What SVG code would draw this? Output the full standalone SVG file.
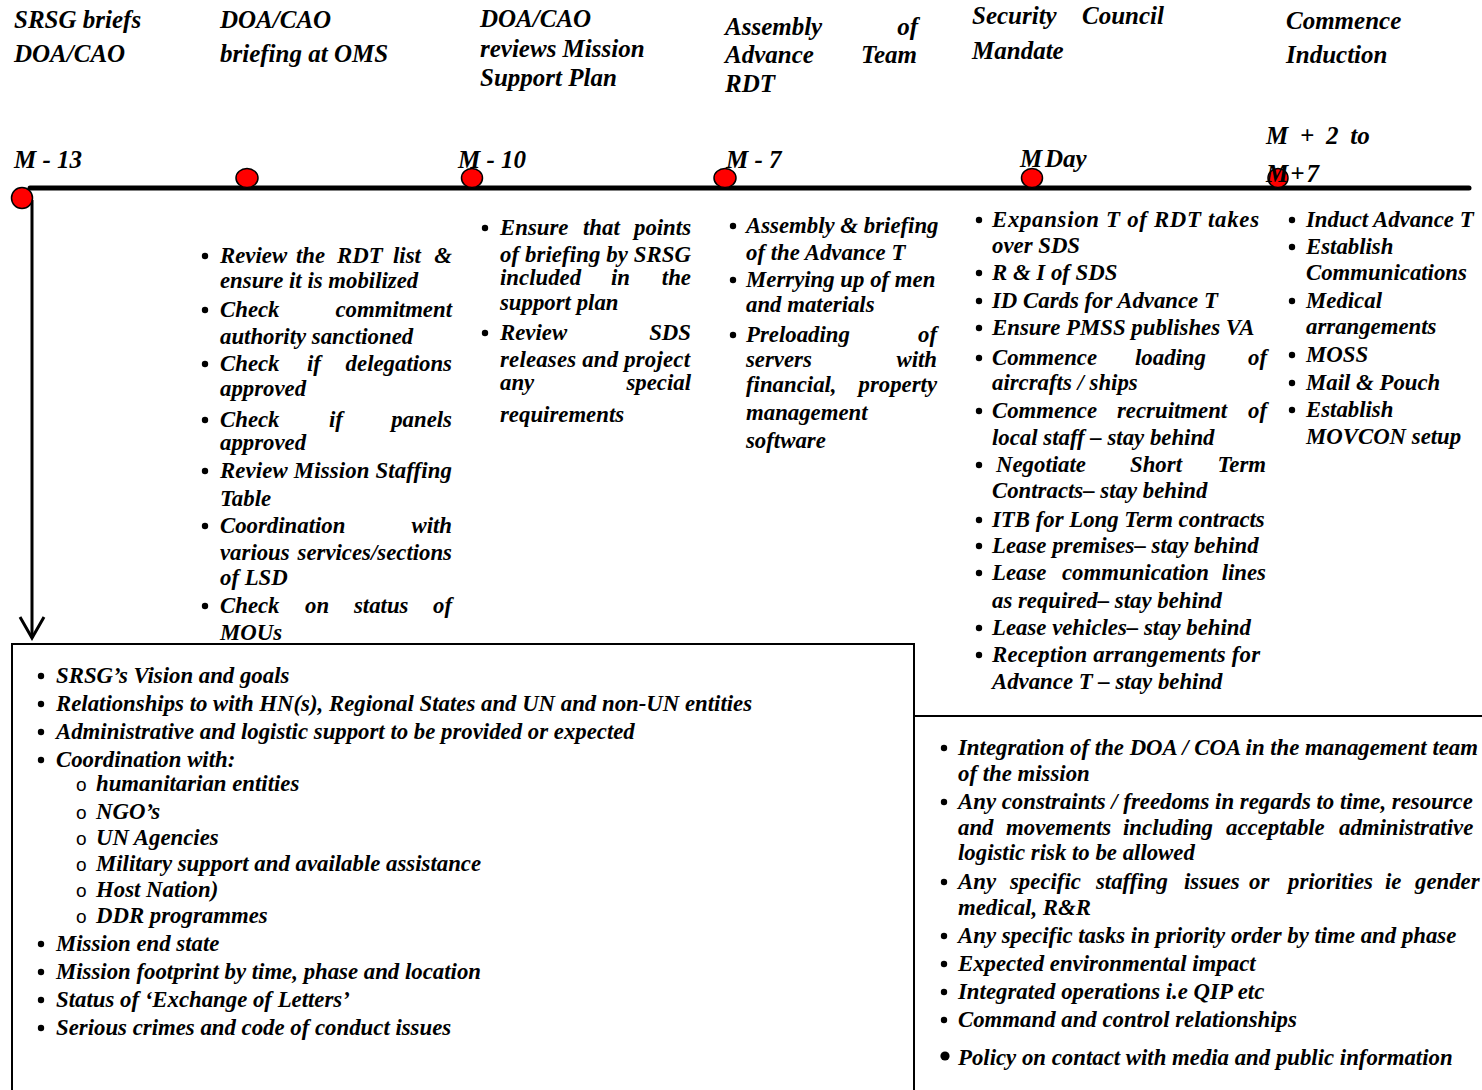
<svg xmlns="http://www.w3.org/2000/svg" width="1482" height="1090" viewBox="0 0 1482 1090">
<style>
text{font-family:"Liberation Serif","Times New Roman",serif;font-weight:bold;font-style:italic;fill:#000}
.h{font-size:25px}
.t{font-size:22.8px}
.e{text-anchor:end}
.o{font-family:"Liberation Sans",Arial,sans-serif;font-style:normal;font-weight:normal;font-size:19px}
.dot{fill:#000}
.node{fill:#ff0000;stroke:#000;stroke-width:1.5}
.box{fill:#fff;stroke:#000;stroke-width:2}
</style>
<defs>
<marker id="arr" viewBox="0 0 30 30" refX="27" refY="15" markerWidth="30" markerHeight="30" markerUnits="userSpaceOnUse" orient="auto">
<polyline points="6,3 27,15 6,27" fill="none" stroke="#000" stroke-width="3"/>
</marker>
</defs>
<rect width="1482" height="1090" fill="#fff"/>

<g id="connectors">
<line x1="30" y1="188" x2="1469" y2="188" stroke="#000" stroke-width="5" stroke-linecap="round"/>
<line x1="32" y1="200" x2="32" y2="638" stroke="#000" stroke-width="3" marker-end="url(#arr)"/>
</g>

<g id="milestones">
<circle class="node" cx="22" cy="198" r="10.5"/>
<ellipse class="node" cx="247" cy="178" rx="11" ry="9.5"/>
<ellipse class="node" cx="472" cy="178" rx="10.5" ry="9.5"/>
<ellipse class="node" cx="725" cy="178" rx="11" ry="9.5"/>
<ellipse class="node" cx="1032" cy="178" rx="10.5" ry="9.5"/>
<ellipse class="node" cx="1278" cy="178" rx="10" ry="9.5"/>
</g>

<g id="hdr-1">
<text class="h" x="14" y="28">SRSG briefs</text>
<text class="h" x="14" y="62">DOA/CAO</text>
<text class="h" x="14" y="168">M - 13</text>
</g>
<g id="hdr-2">
<text class="h" x="220" y="28">DOA/CAO</text>
<text class="h" x="220" y="62">briefing at OMS</text>
</g>
<g id="hdr-3">
<text class="h" x="480" y="27">DOA/CAO</text>
<text class="h" x="480" y="57">reviews Mission</text>
<text class="h" x="480" y="86">Support Plan</text>
<text class="h" x="458" y="168">M - 10</text>
</g>
<g id="hdr-4">
<text class="h" x="725" y="35">Assembly</text>
<text class="h e" x="918" y="35">of</text>
<text class="h" x="725" y="63">Advance</text>
<text class="h e" x="917" y="63">Team</text>
<text class="h" x="725" y="92">RDT</text>
<text class="h" x="726" y="168">M - 7</text>
</g>
<g id="hdr-5">
<text class="h" x="972" y="24">Security</text>
<text class="h e" x="1164" y="24">Council</text>
<text class="h" x="972" y="59">Mandate</text>
<text class="h" x="1020" y="167">M<tspan x="1045">Day</tspan></text>
</g>
<g id="hdr-6">
<text class="h" x="1286" y="29">Commence</text>
<text class="h" x="1286" y="63">Induction</text>
<text class="h" x="1266" y="144" word-spacing="5.5">M + 2 to</text>
<text class="h" x="1266" y="182" letter-spacing="2">M+7</text>
</g>

<g id="list-m12">
<circle class="dot" cx="205" cy="256" r="3.2"/>
<text class="t" x="220" y="263">Review</text><text class="t" x="296" y="263">the</text><text class="t" x="337" y="263">RDT</text><text class="t" x="393" y="263">list</text><text class="t e" x="452" y="263">&amp;</text>
<text class="t" x="220" y="288">ensure it is mobilized</text>
<circle class="dot" cx="205" cy="310" r="3.2"/>
<text class="t" x="220" y="317">Check</text><text class="t e" x="452" y="317">commitment</text>
<text class="t" x="220" y="344">authority sanctioned</text>
<circle class="dot" cx="205" cy="364" r="3.2"/>
<text class="t" x="220" y="371">Check</text><text class="t" x="307" y="371">if</text><text class="t e" x="452" y="371">delegations</text>
<text class="t" x="220" y="396">approved</text>
<circle class="dot" cx="205" cy="420" r="3.2"/>
<text class="t" x="220" y="427">Check</text><text class="t" x="329" y="427">if</text><text class="t e" x="452" y="427">panels</text>
<text class="t" x="220" y="450">approved</text>
<circle class="dot" cx="205" cy="471" r="3.2"/>
<text class="t" x="220" y="478" textLength="232" lengthAdjust="spacing">Review Mission Staffing</text>
<text class="t" x="220" y="506">Table</text>
<circle class="dot" cx="205" cy="526" r="3.2"/>
<text class="t" x="220" y="533">Coordination</text><text class="t e" x="452" y="533">with</text>
<text class="t" x="220" y="560">various</text><text class="t e" x="452" y="560">services/sections</text>
<text class="t" x="220" y="585">of LSD</text>
<circle class="dot" cx="205" cy="606" r="3.2"/>
<text class="t" x="220" y="613">Check</text><text class="t" x="305" y="613">on</text><text class="t" x="354" y="613">status</text><text class="t e" x="452" y="613">of</text>
<text class="t" x="220" y="640">MOUs</text>
</g>

<g id="list-m10">
<circle class="dot" cx="485" cy="228" r="3.2"/>
<text class="t" x="500" y="235">Ensure</text><text class="t" x="583" y="235">that</text><text class="t e" x="691" y="235">points</text>
<text class="t" x="500" y="262" textLength="191" lengthAdjust="spacing">of briefing by SRSG</text>
<text class="t" x="500" y="285">included</text><text class="t" x="611" y="285">in</text><text class="t e" x="691" y="285">the</text>
<text class="t" x="500" y="310">support plan</text>
<circle class="dot" cx="485" cy="333" r="3.2"/>
<text class="t" x="500" y="340">Review</text><text class="t e" x="691" y="340">SDS</text>
<text class="t" x="500" y="367" textLength="190" lengthAdjust="spacing">releases and project</text>
<text class="t" x="500" y="390">any</text><text class="t e" x="691" y="390">special</text>
<text class="t" x="500" y="422">requirements</text>
</g>

<g id="list-m7">
<circle class="dot" cx="733" cy="226" r="3.2"/>
<text class="t" x="746" y="233">Assembly &amp; briefing</text>
<text class="t" x="746" y="260">of the Advance T</text>
<circle class="dot" cx="733" cy="280" r="3.2"/>
<text class="t" x="746" y="287">Merrying up of men</text>
<text class="t" x="746" y="312">and materials</text>
<circle class="dot" cx="733" cy="335" r="3.2"/>
<text class="t" x="746" y="342">Preloading</text><text class="t e" x="937" y="342">of</text>
<text class="t" x="746" y="367">servers</text><text class="t e" x="937" y="367">with</text>
<text class="t" x="746" y="392">financial,</text><text class="t e" x="937" y="392">property</text>
<text class="t" x="746" y="420">management</text>
<text class="t" x="746" y="448">software</text>
</g>

<g id="list-mday">
<circle class="dot" cx="979" cy="220" r="3.2"/>
<text class="t" x="992" y="227" textLength="267" lengthAdjust="spacing">Expansion T of RDT takes</text>
<text class="t" x="992" y="253">over SDS</text>
<circle class="dot" cx="979" cy="273" r="3.2"/>
<text class="t" x="992" y="280">R &amp; I of SDS</text>
<circle class="dot" cx="979" cy="301" r="3.2"/>
<text class="t" x="992" y="308">ID Cards for Advance T</text>
<circle class="dot" cx="979" cy="328" r="3.2"/>
<text class="t" x="992" y="335">Ensure PMSS publishes VA</text>
<circle class="dot" cx="979" cy="358" r="3.2"/>
<text class="t" x="992" y="365">Commence</text><text class="t" x="1135" y="365">loading</text><text class="t e" x="1267" y="365">of</text>
<text class="t" x="992" y="390">aircrafts / ships</text>
<circle class="dot" cx="979" cy="411" r="3.2"/>
<text class="t" x="992" y="418">Commence</text><text class="t" x="1117" y="418">recruitment</text><text class="t e" x="1267" y="418">of</text>
<text class="t" x="992" y="445">local staff – stay behind</text>
<circle class="dot" cx="979" cy="465" r="3.2"/>
<text class="t" x="996" y="472">Negotiate</text><text class="t" x="1130" y="472">Short</text><text class="t e" x="1266" y="472">Term</text>
<text class="t" x="992" y="498">Contracts– stay behind</text>
<circle class="dot" cx="979" cy="520" r="3.2"/>
<text class="t" x="992" y="527">ITB for Long Term contracts</text>
<circle class="dot" cx="979" cy="546" r="3.2"/>
<text class="t" x="992" y="553">Lease premises– stay behind</text>
<circle class="dot" cx="979" cy="573" r="3.2"/>
<text class="t" x="992" y="580">Lease</text><text class="t" x="1062" y="580">communication</text><text class="t e" x="1266" y="580">lines</text>
<text class="t" x="992" y="608">as required– stay behind</text>
<circle class="dot" cx="979" cy="628" r="3.2"/>
<text class="t" x="992" y="635">Lease vehicles– stay behind</text>
<circle class="dot" cx="979" cy="655" r="3.2"/>
<text class="t" x="992" y="662" textLength="268" lengthAdjust="spacing">Reception arrangements for</text>
<text class="t" x="992" y="689">Advance T – stay behind</text>
</g>

<g id="list-m2to7">
<circle class="dot" cx="1292" cy="220" r="3.2"/>
<text class="t" x="1306" y="227">Induct Advance T</text>
<circle class="dot" cx="1292" cy="247" r="3.2"/>
<text class="t" x="1306" y="254">Establish</text>
<text class="t" x="1306" y="280">Communications</text>
<circle class="dot" cx="1292" cy="301" r="3.2"/>
<text class="t" x="1306" y="308">Medical</text>
<text class="t" x="1306" y="334">arrangements</text>
<circle class="dot" cx="1292" cy="355" r="3.2"/>
<text class="t" x="1306" y="362">MOSS</text>
<circle class="dot" cx="1292" cy="383" r="3.2"/>
<text class="t" x="1306" y="390">Mail &amp; Pouch</text>
<circle class="dot" cx="1292" cy="410" r="3.2"/>
<text class="t" x="1306" y="417">Establish</text>
<text class="t" x="1306" y="444">MOVCON setup</text>
</g>

<g id="box-srsg-brief">
<rect class="box" x="12" y="644" width="902" height="470"/>
<circle class="dot" cx="41" cy="676" r="3.2"/>
<text class="t" x="56" y="683">SRSG’s Vision and goals</text>
<circle class="dot" cx="41" cy="704" r="3.2"/>
<text class="t" x="56" y="711">Relationships to with HN(s), Regional States and UN and non-UN entities</text>
<circle class="dot" cx="41" cy="732" r="3.2"/>
<text class="t" x="56" y="739">Administrative and logistic support to be provided or expected</text>
<circle class="dot" cx="41" cy="760" r="3.2"/>
<text class="t" x="56" y="767">Coordination with:</text>
<text class="o" x="76" y="791">o</text><text class="t" x="96" y="791">humanitarian entities</text>
<text class="o" x="76" y="819">o</text><text class="t" x="96" y="819">NGO’s</text>
<text class="o" x="76" y="845">o</text><text class="t" x="96" y="845">UN Agencies</text>
<text class="o" x="76" y="871">o</text><text class="t" x="96" y="871">Military support and available assistance</text>
<text class="o" x="76" y="897">o</text><text class="t" x="96" y="897">Host Nation)</text>
<text class="o" x="76" y="923">o</text><text class="t" x="96" y="923">DDR programmes</text>
<circle class="dot" cx="41" cy="944" r="3.2"/>
<text class="t" x="56" y="951">Mission end state</text>
<circle class="dot" cx="41" cy="972" r="3.2"/>
<text class="t" x="56" y="979">Mission footprint by time, phase and location</text>
<circle class="dot" cx="41" cy="1000" r="3.2"/>
<text class="t" x="56" y="1007">Status of ‘Exchange of Letters’</text>
<circle class="dot" cx="41" cy="1028" r="3.2"/>
<text class="t" x="56" y="1035">Serious crimes and code of conduct issues</text>
</g>

<g id="box-mission-mgmt">
<rect class="box" x="914" y="716" width="600" height="400"/>
<circle class="dot" cx="944" cy="748" r="3.2"/>
<text class="t" x="958" y="755">Integration of the DOA / COA in the management team</text>
<text class="t" x="958" y="781">of the mission</text>
<circle class="dot" cx="944" cy="802" r="3.2"/>
<text class="t" x="958" y="809">Any constraints / freedoms in regards to time, resource</text>
<text class="t" x="958" y="835">and</text><text class="t" x="1006" y="835">movements</text><text class="t" x="1123" y="835">including</text><text class="t" x="1226" y="835">acceptable</text><text class="t" x="1339" y="835">administrative</text>
<text class="t" x="958" y="860">logistic risk to be allowed</text>
<circle class="dot" cx="944" cy="882" r="3.2"/>
<text class="t" x="958" y="889">Any</text><text class="t" x="1010" y="889">specific</text><text class="t" x="1096" y="889">staffing</text><text class="t" x="1184" y="889">issues</text><text class="t" x="1249" y="889">or</text><text class="t" x="1288" y="889">priorities</text><text class="t" x="1385" y="889">ie</text><text class="t" x="1415" y="889">gender</text>
<text class="t" x="958" y="915">medical, R&amp;R</text>
<circle class="dot" cx="944" cy="936" r="3.2"/>
<text class="t" x="958" y="943">Any specific tasks in priority order by time and phase</text>
<circle class="dot" cx="944" cy="964" r="3.2"/>
<text class="t" x="958" y="971">Expected environmental impact</text>
<circle class="dot" cx="944" cy="992" r="3.2"/>
<text class="t" x="958" y="999">Integrated operations i.e QIP etc</text>
<circle class="dot" cx="944" cy="1020" r="3.2"/>
<text class="t" x="958" y="1027">Command and control relationships</text>
<circle class="dot" cx="945" cy="1056" r="4.6"/>
<text class="t" x="958" y="1065">Policy on contact with media and public information</text>
</g>
</svg>
